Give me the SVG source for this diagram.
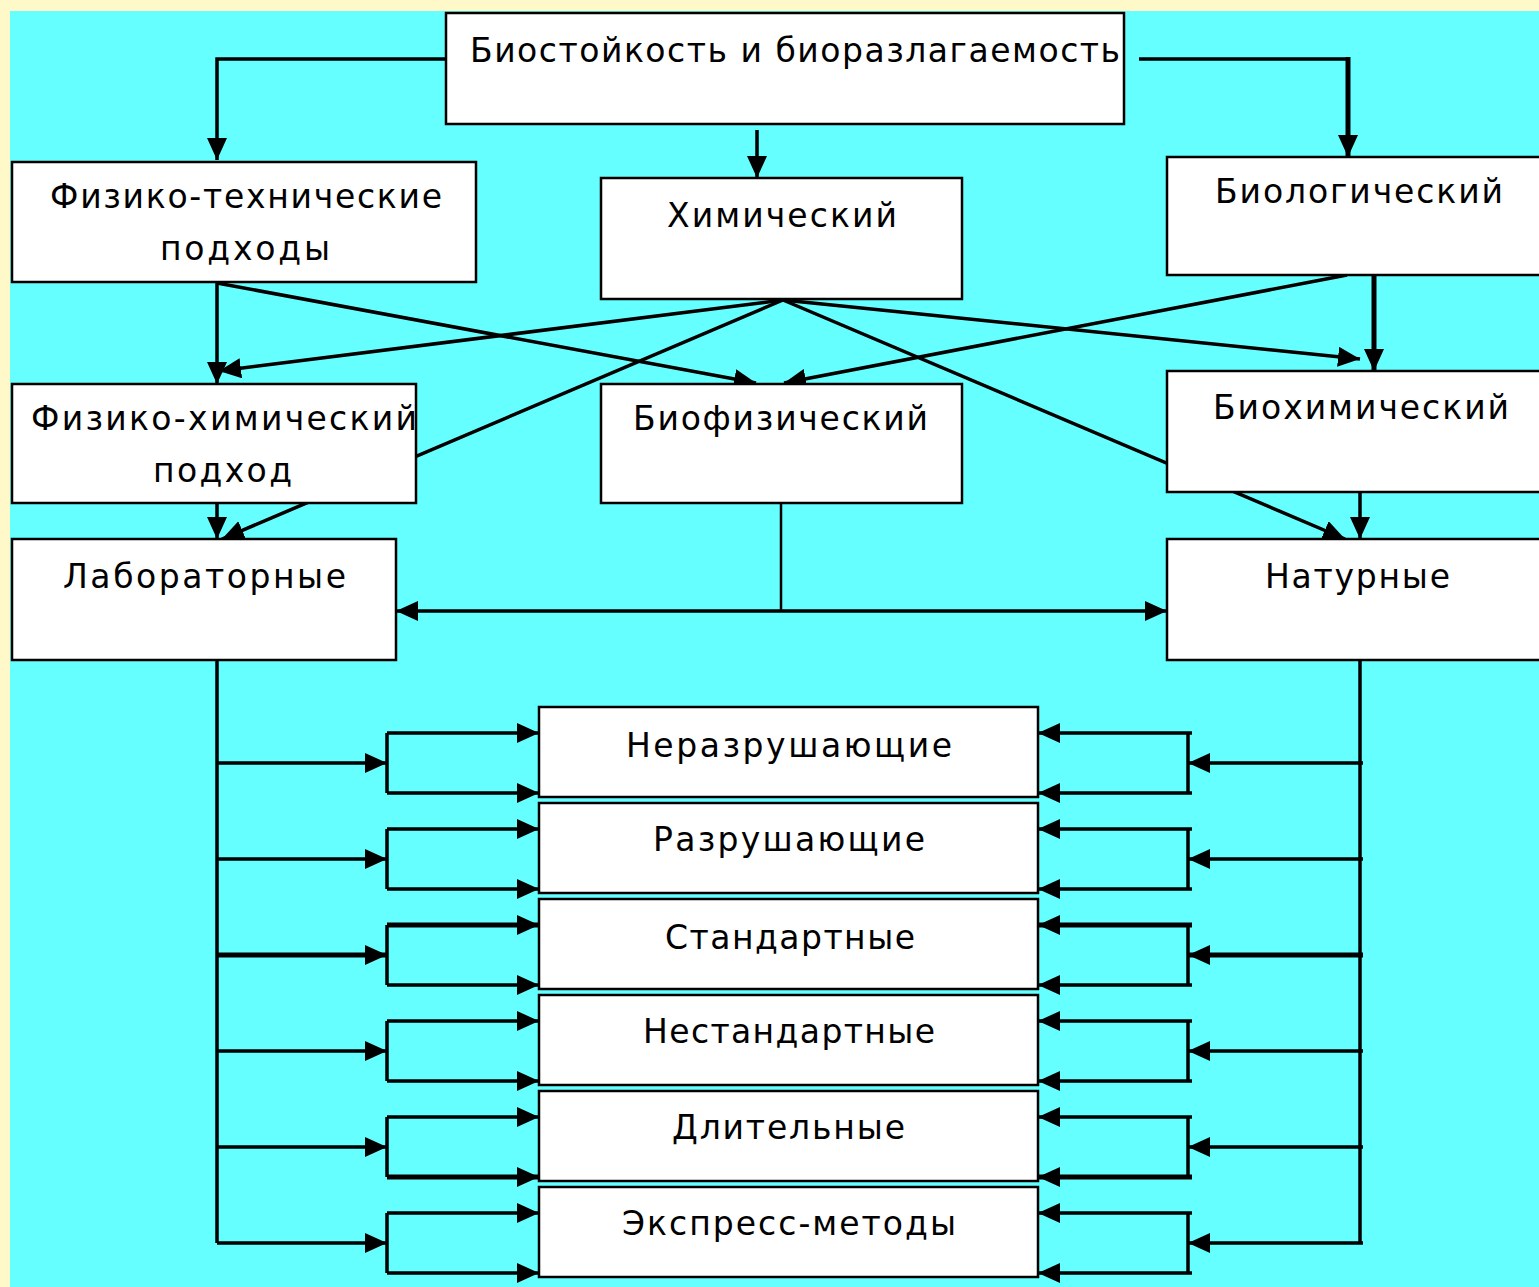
<svg xmlns="http://www.w3.org/2000/svg" width="1539" height="1287" viewBox="0 0 1539 1287">
<style>
.box{fill:#ffffff;stroke:#000000;stroke-width:2.5}
.lbl{font-family:"DejaVu Sans",Verdana,"Noto Sans",sans-serif;font-size:33px;fill:#000000}
.c{fill:none;stroke:#000000;stroke-width:3.5}
.cw{fill:none;stroke:#000000;stroke-width:5}
.ct{fill:none;stroke:#000000;stroke-width:2.5}
.a{marker-end:url(#arr)}
</style>
<defs>
<marker id="arr" markerUnits="userSpaceOnUse" markerWidth="24" markerHeight="22" refX="22" refY="10" orient="auto">
<path d="M0,0 L22,10 L0,20 z" fill="#000000"/>
</marker>
</defs>
<rect x="0" y="0" width="1539" height="1287" fill="#FFF9C9"/>
<rect x="10" y="11" width="1529" height="1276" fill="#66FFFF"/>
<g id="connectors">
<path class="c a" d="M446,59 H217 V160"/>
<path class="c" d="M1139,59 H1348"/>
<path class="cw a" d="M1348,57 V157"/>
<path class="c a" d="M757,130 V178"/>
<path class="c a" d="M217,282 V384"/>
<path class="c a" d="M217,283 L756,383"/>
<path class="c a" d="M783,300 L219,371"/>
<path class="c a" d="M783,300 L222,539"/>
<path class="c a" d="M783,300 L1360,359"/>
<path class="c a" d="M783,300 L1345,539"/>
<path class="c a" d="M1347,275 L784,383"/>
<path class="cw a" d="M1374,275 V371"/>
<path class="c a" d="M217,503 V539"/>
<path class="c a" d="M1360,492 V539"/>
<path class="ct" d="M781,503 V611"/>
<path class="c a" d="M781,611 H396"/>
<path class="c a" d="M781,611 H1167"/>
<path class="c" d="M217,660 V1243"/>
<path class="c" d="M1360,660 V1243"/>
<!-- row 1 -->
<path class="c a" d="M217,763 H387"/>
<path class="c" d="M387,733 V793"/>
<path class="c a" d="M387,733 H539"/>
<path class="c a" d="M387,793 H539"/>
<path class="c a" d="M1363,763 H1188"/>
<path class="c" d="M1188,733 V793"/>
<path class="c a" d="M1192,733 H1038"/>
<path class="c a" d="M1192,793 H1038"/>
<!-- row 2 -->
<path class="c a" d="M217,859 H387"/>
<path class="c" d="M387,829 V889"/>
<path class="c a" d="M387,829 H539"/>
<path class="c a" d="M387,889 H539"/>
<path class="c a" d="M1363,859 H1188"/>
<path class="c" d="M1188,829 V889"/>
<path class="c a" d="M1192,829 H1038"/>
<path class="c a" d="M1192,889 H1038"/>
<!-- row 3 -->
<path class="cw a" d="M217,955 H387"/>
<path class="c" d="M387,925 V985"/>
<path class="cw a" d="M387,925 H539"/>
<path class="c a" d="M387,985 H539"/>
<path class="cw a" d="M1363,955 H1188"/>
<path class="c" d="M1188,925 V985"/>
<path class="cw a" d="M1192,925 H1038"/>
<path class="c a" d="M1192,985 H1038"/>
<!-- row 4 -->
<path class="c a" d="M217,1051 H387"/>
<path class="c" d="M387,1021 V1081"/>
<path class="c a" d="M387,1021 H539"/>
<path class="c a" d="M387,1081 H539"/>
<path class="c a" d="M1363,1051 H1188"/>
<path class="c" d="M1188,1021 V1081"/>
<path class="c a" d="M1192,1021 H1038"/>
<path class="c a" d="M1192,1081 H1038"/>
<!-- row 5 -->
<path class="c a" d="M217,1147 H387"/>
<path class="c" d="M387,1117 V1177"/>
<path class="c a" d="M387,1117 H539"/>
<path class="cw a" d="M387,1177 H539"/>
<path class="c a" d="M1363,1147 H1188"/>
<path class="c" d="M1188,1117 V1177"/>
<path class="c a" d="M1192,1117 H1038"/>
<path class="cw a" d="M1192,1177 H1038"/>
<!-- row 6 -->
<path class="c a" d="M217,1243 H387"/>
<path class="c" d="M387,1213 V1273"/>
<path class="c a" d="M387,1213 H539"/>
<path class="c a" d="M387,1273 H539"/>
<path class="c a" d="M1363,1243 H1188"/>
<path class="c" d="M1188,1213 V1273"/>
<path class="c a" d="M1192,1213 H1038"/>
<path class="c a" d="M1192,1273 H1038"/>
</g>
<g id="node-root"><rect class="box" x="446" y="13" width="678" height="111"/><text class="lbl" x="470" y="62" textLength="650" lengthAdjust="spacing">Биостойкость и биоразлагаемость</text></g>
<g id="node-fiztech"><rect class="box" x="12" y="162" width="464" height="120"/><text class="lbl" x="50" y="208" textLength="392" lengthAdjust="spacing">Физико-технические</text><text class="lbl" x="160" y="260" textLength="170" lengthAdjust="spacing">подходы</text></g>
<g id="node-chem"><rect class="box" x="601" y="178" width="361" height="121"/><text class="lbl" x="667" y="227" textLength="230" lengthAdjust="spacing">Химический</text></g>
<g id="node-bio"><rect class="box" x="1167" y="157" width="385" height="118"/><text class="lbl" x="1215" y="203" textLength="288" lengthAdjust="spacing">Биологический</text></g>
<g id="node-fizchem"><rect class="box" x="12" y="384" width="404" height="119"/><text class="lbl" x="31" y="430" textLength="386" lengthAdjust="spacing">Физико-химический</text><text class="lbl" x="153" y="482" textLength="139" lengthAdjust="spacing">подход</text></g>
<g id="node-biophys"><rect class="box" x="601" y="384" width="361" height="119"/><text class="lbl" x="633" y="430" textLength="295" lengthAdjust="spacing">Биофизический</text></g>
<g id="node-biochem"><rect class="box" x="1167" y="371" width="385" height="121"/><text class="lbl" x="1213" y="419" textLength="296" lengthAdjust="spacing">Биохимический</text></g>
<g id="node-lab"><rect class="box" x="12" y="539" width="384" height="121"/><text class="lbl" x="63" y="588" textLength="283" lengthAdjust="spacing">Лабораторные</text></g>
<g id="node-natur"><rect class="box" x="1167" y="539" width="385" height="121"/><text class="lbl" x="1265" y="588" textLength="185" lengthAdjust="spacing">Натурные</text></g>
<g id="node-nondestr"><rect class="box" x="539" y="707" width="499" height="90"/><text class="lbl" x="626" y="757" textLength="326" lengthAdjust="spacing">Неразрушающие</text></g>
<g id="node-destr"><rect class="box" x="539" y="803" width="499" height="90"/><text class="lbl" x="653" y="851" textLength="272" lengthAdjust="spacing">Разрушающие</text></g>
<g id="node-std"><rect class="box" x="539" y="899" width="499" height="90"/><text class="lbl" x="665" y="949" textLength="250" lengthAdjust="spacing">Стандартные</text></g>
<g id="node-nonstd"><rect class="box" x="539" y="995" width="499" height="90"/><text class="lbl" x="643" y="1043" textLength="292" lengthAdjust="spacing">Нестандартные</text></g>
<g id="node-long"><rect class="box" x="539" y="1091" width="499" height="90"/><text class="lbl" x="672" y="1139" textLength="233" lengthAdjust="spacing">Длительные</text></g>
<g id="node-express"><rect class="box" x="539" y="1187" width="499" height="90"/><text class="lbl" x="622" y="1235" textLength="334" lengthAdjust="spacing">Экспресс-методы</text></g>
</svg>
